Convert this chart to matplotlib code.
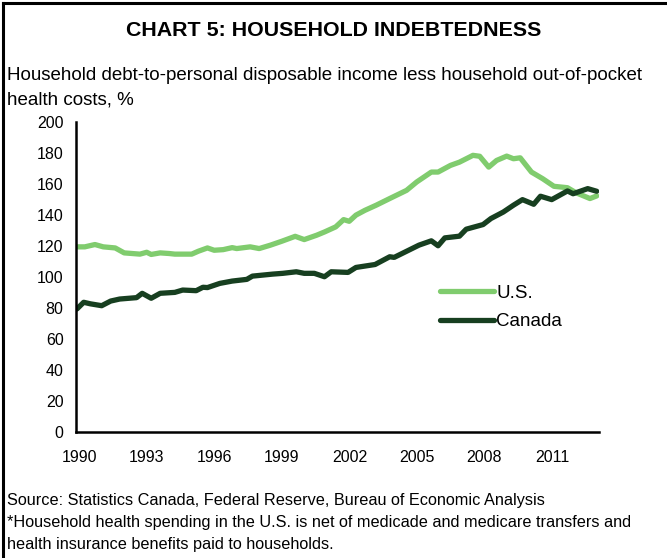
import matplotlib.pyplot as plt
from matplotlib.lines import Line2D

# data (decimal years, %)
us_years = [1990.0, 1990.35, 1990.8, 1991.17, 1991.7, 1992.1, 1992.8, 1993.1, 1993.3, 1993.7,
            1994.1, 1994.35, 1995.1, 1995.4, 1995.8, 1996.1, 1996.5, 1996.9, 1997.1, 1997.7,
            1998.1, 1998.6, 1999.1, 1999.7, 2000.1, 2000.65, 2001.0, 2001.5, 2001.85, 2002.1,
            2002.4, 2002.8, 2003.3, 2003.9, 2004.65, 2005.1, 2005.75, 2006.05, 2006.6, 2007.0,
            2007.6, 2007.9, 2008.3, 2008.65, 2009.1, 2009.4, 2009.7, 2010.2, 2010.7, 2011.2,
            2011.8, 2012.2, 2012.8, 2013.1]
us_values = [119.5, 119.5, 121.0, 119.5, 118.8, 115.6, 114.8, 116.0, 114.6, 115.6,
             115.2, 114.8, 114.8, 116.7, 118.8, 117.3, 117.7, 119.0, 118.4, 119.5,
             118.4, 120.6, 123.1, 126.3, 124.2, 127.0, 129.1, 132.4, 137.1, 136.0,
             140.0, 143.1, 146.4, 150.7, 156.0, 161.4, 167.8, 167.8, 172.1, 174.2,
             178.6, 178.0, 171.0, 175.3, 178.1, 176.4, 177.0, 167.8, 163.5, 158.6,
             157.7, 154.3, 150.7, 152.4]

ca_years = [1990.0, 1990.3, 1990.6, 1991.1, 1991.5, 1991.9, 1992.65, 1992.9, 1993.3, 1993.7,
            1994.35, 1994.7, 1995.3, 1995.6, 1995.8, 1996.35, 1996.9, 1997.55, 1997.8, 1998.7,
            1999.15, 1999.75, 2000.1, 2000.55, 2001.0, 2001.3, 2002.05, 2002.4, 2003.25, 2003.9,
            2004.1, 2005.2, 2005.75, 2006.05, 2006.35, 2007.0, 2007.3, 2008.05, 2008.4, 2008.95,
            2009.4, 2009.8, 2010.3, 2010.6, 2011.1, 2011.8, 2012.05, 2012.7, 2013.1]
ca_values = [79.4, 83.7, 82.7, 81.5, 84.5, 85.8, 86.7, 89.5, 86.3, 89.5,
             90.1, 91.6, 91.2, 93.4, 93.2, 95.9, 97.4, 98.5, 100.6, 101.9,
             102.4, 103.4, 102.4, 102.4, 100.2, 103.4, 103.0, 106.2, 108.1, 113.1,
             112.7, 120.6, 123.4, 120.2, 125.3, 126.4, 130.9, 133.9, 137.8, 142.0,
             146.4, 150.0, 147.0, 152.2, 150.0, 155.6, 153.8, 157.1, 155.4]

year_labels = ['1990', '1993', '1996', '1999', '2002', '2005', '2008', '2011']
y_ticks = list(range(0, 201, 20))

us_color = '#80CC6E'
ca_color = '#173F20'

plt.rcParams['font.family'] = ['Liberation Sans', 'DejaVu Sans']

dpi = 100
fig = plt.figure(figsize=(667 / dpi, 558 / dpi), dpi=dpi)
ax = fig.add_axes([0.114, 0.226, 0.784, 0.555])

ax.plot(us_years, us_values, color=us_color, lw=3.8, label='U.S.', solid_capstyle='round')
ax.plot(ca_years, ca_values, color=ca_color, lw=3.8, label='Canada', solid_capstyle='round')

ax.set_xlim(1989.96, 2013.2)
ax.set_ylim(0, 200)
ax.set_yticks(y_ticks)
ax.set_xticks([int(y) + 0.11 for y in year_labels])
ax.set_xticklabels(year_labels)
ax.tick_params(axis='both', length=0, labelsize=11.5)
ax.tick_params(axis='y', pad=9)
ax.tick_params(axis='x', pad=13)

for s in ['top', 'right']:
    ax.spines[s].set_visible(False)
ax.spines['left'].set_linewidth(1.8)
ax.spines['bottom'].set_linewidth(1.8)

ax.legend(loc='center left', bbox_to_anchor=(0.696, 0.402), frameon=False, fontsize=13.5,
          handlelength=2.9, handletextpad=0.1, labelspacing=0.6,
          borderaxespad=0, borderpad=0)

fig.text(0.5, 0.946, 'CHART 5: HOUSEHOLD INDEBTEDNESS', ha='center', va='center',
         fontsize=15.4, fontweight='bold')
fig.text(0.01, 0.843, 'Household debt-to-personal disposable income less household out-of-pocket\nhealth costs, %',
         ha='left', va='center', fontsize=13.5, linespacing=1.55)
fig.text(0.01, 0.064, 'Source: Statistics Canada, Federal Reserve, Bureau of Economic Analysis\n'
         '*Household health spending in the U.S. is net of medicade and medicare transfers and\n'
         'health insurance benefits paid to households.',
         ha='left', va='center', fontsize=11.7, linespacing=1.59)

# frame on top and left edge
fig.add_artist(Line2D([0.004, 0.004], [0, 0.995], color='black', lw=2.2))
fig.add_artist(Line2D([0.004, 1], [0.995, 0.995], color='black', lw=2.2))

fig.savefig('out.png', dpi=dpi)
